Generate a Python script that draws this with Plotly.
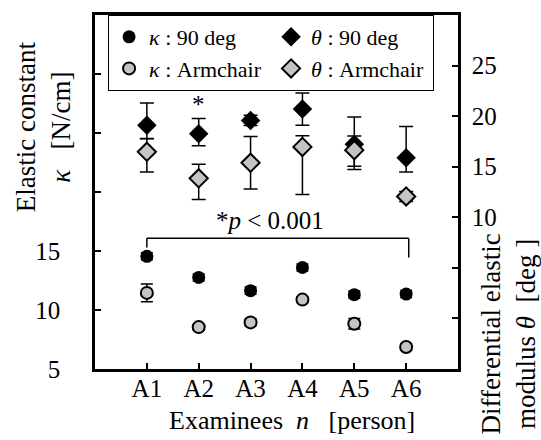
import plotly.graph_objects as go

examinees = ["A1", "A2", "A3", "A4", "A5", "A6"]

# Elastic constant kappa [N/cm] (left axis)
kappa_90 = [14.55, 12.76, 11.64, 13.6, 11.3, 11.35]
kappa_90_err = [0.3, 0.3, 0.3, 0.3, 0.3, 0.3]
kappa_arm = [11.45, 8.55, 8.95, 10.88, 8.84, 6.87]
kappa_arm_err = [0.75, 0.25, 0.3, 0.25, 0.45, 0.25]

# Differential elastic modulus theta [deg] (right axis)
theta_90 = [19.1, 18.27, 19.58, 20.7, 17.22, 15.88]
theta_90_up = [2.2, 1.5, 0.5, 1.6, 2.7, 3.1]
theta_90_dn = [1.3, 1.2, 0.5, 1.6, 2.5, 1.4]
theta_arm = [16.47, 13.85, 15.39, 16.96, 16.64, 12.06]
theta_arm_up = [1.3, 1.4, 2.6, 1.1, 1.4, 0.5]
theta_arm_dn = [2.0, 2.1, 2.6, 4.7, 1.6, 0.5]

FONT = "Liberation Serif, Times New Roman, serif"
GRAY = "#c4c4c4"
TICK_SIZE = 25
TITLE_SIZE = 27
LEGEND_SIZE = 22

fig = go.Figure()

fig.add_trace(go.Scatter(
    x=examinees, y=kappa_90, mode="markers", name="<i>κ</i> : 90 deg",
    marker=dict(symbol="circle", size=13, color="black"),
    error_y=dict(type="data", array=kappa_90_err, color="black", thickness=1.5, width=6),
))
fig.add_trace(go.Scatter(
    x=examinees, y=theta_90, mode="markers", name="<i>θ</i> : 90 deg", yaxis="y2",
    marker=dict(symbol="diamond", size=15, color="black"),
    error_y=dict(type="data", symmetric=False, array=theta_90_up, arrayminus=theta_90_dn,
                 color="black", thickness=1.5, width=7),
))
fig.add_trace(go.Scatter(
    x=examinees, y=kappa_arm, mode="markers", name="<i>κ</i> : Armchair",
    marker=dict(symbol="circle", size=12, color=GRAY, line=dict(color="black", width=2)),
    error_y=dict(type="data", array=kappa_arm_err, color="black", thickness=1.5, width=6),
))
fig.add_trace(go.Scatter(
    x=examinees, y=theta_arm, mode="markers", name="<i>θ</i> : Armchair", yaxis="y2",
    marker=dict(symbol="diamond", size=14, color=GRAY, line=dict(color="black", width=2)),
    error_y=dict(type="data", symmetric=False, array=theta_arm_up, arrayminus=theta_arm_dn,
                 color="black", thickness=1.5, width=7),
))

# significance bracket between A1 and A6
bracket_y = 16.07
fig.add_shape(type="line", xref="x", yref="y", x0=0, x1=5.05, y0=bracket_y, y1=bracket_y,
              line=dict(color="black", width=1.5))
fig.add_shape(type="line", xref="x", yref="y", x0=0, x1=0, y0=bracket_y, y1=15.3,
              line=dict(color="black", width=1.5))
fig.add_shape(type="line", xref="x", yref="y", x0=5.05, x1=5.05, y0=bracket_y, y1=14.45,
              line=dict(color="black", width=1.5))
fig.add_annotation(x=2.37, y=17.55, xref="x", yref="y", text="*<i>p</i> < 0.001",
                   showarrow=False, font=dict(family=FONT, size=TICK_SIZE, color="black"))
fig.add_annotation(x=1, y=27.4, xref="x", yref="y", text="*",
                   showarrow=False, font=dict(family=FONT, size=TICK_SIZE, color="black"))

# axis titles
fig.add_annotation(x=-0.143, y=0.683, xref="paper", yref="paper",
                   xanchor="center", yanchor="middle",
                   text="Elastic constant<br><i>κ</i>   [N/cm]", textangle=-90,
                   showarrow=False, font=dict(family=FONT, size=TITLE_SIZE, color="black"))
fig.add_annotation(x=1.14, y=0.1, xref="paper", yref="paper",
                   xanchor="center", yanchor="middle",
                   text="Differential elastic<br>modulus <i>θ</i>  [deg ]", textangle=-90,
                   showarrow=False, font=dict(family=FONT, size=TITLE_SIZE, color="black"))
fig.add_annotation(x=0.543, y=-0.146, xref="paper", yref="paper",
                   xanchor="center", yanchor="middle",
                   text="Examinees  <i>n</i>   [person]",
                   showarrow=False, font=dict(family=FONT, size=TITLE_SIZE - 1, color="black"))

axis_line = dict(showline=True, linecolor="black", linewidth=2.5, showgrid=False,
                 zeroline=False, ticks="inside", ticklen=6, tickwidth=1.5, tickcolor="black",
                 tickfont=dict(family=FONT, size=TICK_SIZE, color="black"))

fig.update_layout(
    width=541, height=440,
    margin=dict(l=95, r=83, t=12, b=71),
    paper_bgcolor="white", plot_bgcolor="white",
    font=dict(family=FONT, size=TICK_SIZE, color="black"),
    showlegend=True,
    legend=dict(orientation="h", x=0.036, y=1, xanchor="left", yanchor="top",
                entrywidth=117, bgcolor="white", bordercolor="black", borderwidth=1,
                font=dict(family=FONT, size=LEGEND_SIZE, color="black"),
                tracegroupgap=0, itemwidth=30),
    xaxis=dict(**axis_line, mirror=True, range=[-1, 6], type="category",
               ticklabelstandoff=-5),
    yaxis=dict(**axis_line, range=[5, 35], tickvals=[5, 10, 15, 20, 25, 30],
               ticktext=["5", "10", "15", "", "", ""], ticklabelstandoff=27),
    yaxis2=dict(**axis_line, overlaying="y", side="right", range=[-5, 30],
                tickvals=[0, 5, 10, 15, 20, 25], ticktext=["", "", "10", "15", "20", "25"],
                ticklabelstandoff=6),
)

fig.write_html("out.html")
